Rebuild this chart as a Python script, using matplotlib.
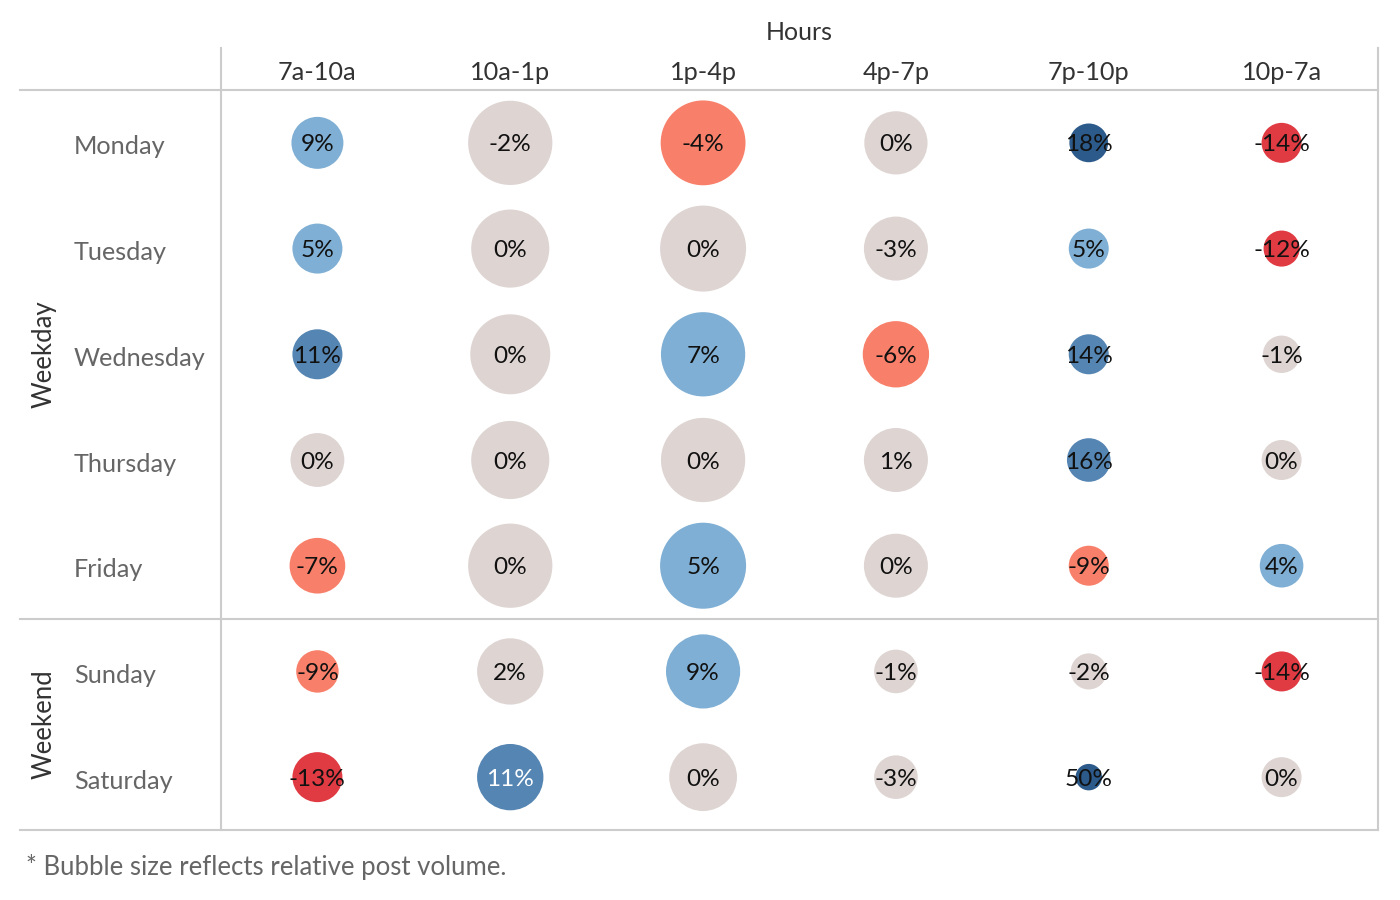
import matplotlib
matplotlib.use("Agg")
import matplotlib.pyplot as plt
import numpy as np

plt.rcParams['font.family'] = ['Lato', 'DejaVu Sans']

hours = ["7a-10a", "10a-1p", "1p-4p", "4p-7p", "7p-10p", "10p-7a"]
days = ["Monday", "Tuesday", "Wednesday", "Thursday", "Friday", "Sunday", "Saturday"]
groups = ["Weekday", "Weekend"]
group_sizes = [5, 2]

# percent change per day x hour
pct = [
    [9, -2, -4, 0, 18, -14],
    [5, 0, 0, -3, 5, -12],
    [11, 0, 7, -6, 14, -1],
    [0, 0, 0, 1, 16, 0],
    [-7, 0, 5, 0, -9, 4],
    [-9, 2, 9, -1, -2, -14],
    [-13, 11, 0, -3, 50, 0],
]
# relative post volume (bubble area)
volume = [
    [27, 71, 72, 40, 15, 16],
    [25, 61, 74, 41, 16, 13],
    [25, 64, 71, 44, 16, 14],
    [29, 61, 71, 41, 19, 16],
    [31, 71, 74, 41, 16, 19],
    [18, 44, 55, 19, 13, 16],
    [25, 44, 46, 19, 7, 16],
]
# cells whose label is drawn in white
white_label = [(6, 1)]

def color_for(v):
    if v >= 17:
        return "#2C5A8A"
    if v >= 10:
        return "#5585B2"
    if v >= 4:
        return "#7FAFD4"
    if v > -4:
        return "#DED5D3"
    if v > -10:
        return "#F8806A"
    return "#E03B43"

W, H = 1400, 900
fig = plt.figure(figsize=(14, 9), dpi=100)

# overlay axes in pixel coordinates for frame lines and labels
ov = fig.add_axes([0, 0, 1, 1])
ov.set_xlim(0, W)
ov.set_ylim(H, 0)
ov.axis("off")

gx0, gx1, gy0, gy1 = 221, 1378, 90, 830
ax = fig.add_axes([gx0 / W, (H - gy1) / H, (gx1 - gx0) / W, (gy1 - gy0) / H])
ax.set_xlim(-0.5, len(hours) - 0.5)
ax.set_ylim(len(days) - 0.5, -0.5)
ax.axis("off")

pct_a = np.array(pct)
vol_a = np.array(volume)
px_to_pt = 72 / 100
row_h = (gy1 - gy0) / len(days)
for r in range(len(days)):
    for c in range(len(hours)):
        v = pct_a[r, c]
        d = np.sqrt(vol_a[r, c]) * 10  # diameter in px
        ax.scatter(c, r, s=(d * px_to_pt) ** 2, color=color_for(v), edgecolors="none", zorder=2)
        tc = "white" if (r, c) in white_label else "#111111"
        ax.text(c, r + 2 / row_h, f"{v}%", ha="center", va="center", fontsize=17.6, color=tc, zorder=3)

line_c = "#CCCCCC"
# frame lines
ov.plot([20, gx1], [gy0, gy0], color=line_c, lw=1.5)
ov.plot([20, gx1], [619, 619], color=line_c, lw=1.5)
ov.plot([20, gx1], [gy1, gy1], color=line_c, lw=1.5)
ov.plot([gx0, gx0], [48, gy1], color=line_c, lw=1.5)
ov.plot([gx1, gx1], [48, gy1], color=line_c, lw=1.5)

# headers
ov.text((gx0 + gx1) / 2, 33, "Hours", ha="center", va="center", fontsize=18, color="#333333")
for c, h in enumerate(hours):
    x = gx0 + (c + 0.5) * (gx1 - gx0) / len(hours)
    ov.text(x, 72, h, ha="center", va="center", fontsize=18.2, color="#333333")

# row labels
for r, dname in enumerate(days):
    y = gy0 + (r + 0.5) * row_h
    ov.text(74, y + 4, dname, ha="left", va="center", fontsize=18.2, color="#666666")

start = 0
for g, n in zip(groups, group_sizes):
    y = gy0 + (start + n / 2) * row_h
    ov.text(44, y, g, ha="center", va="center", rotation=90, fontsize=18.5, color="#333333")
    start += n

ov.text(26, 867, "* Bubble size reflects relative post volume.", ha="left", va="center",
        fontsize=18.5, color="#666666")

fig.savefig("out.png", dpi=100)
